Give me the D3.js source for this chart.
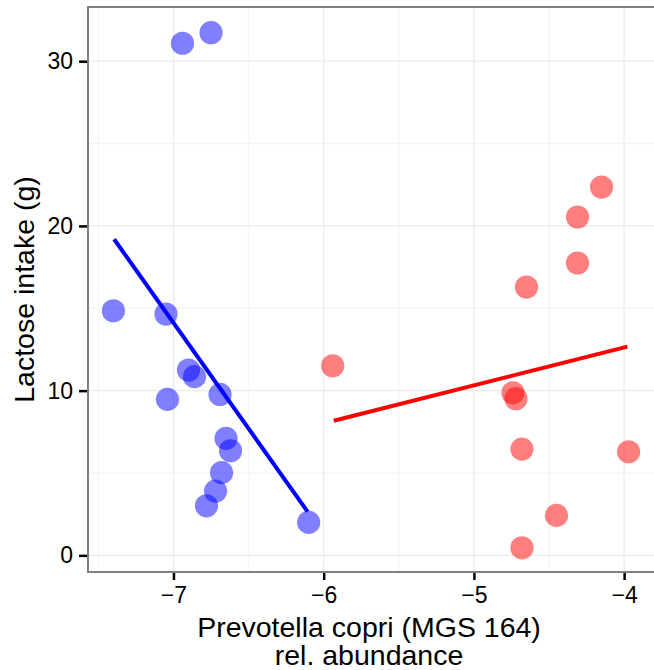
<!DOCTYPE html>
<html lang="en">
<head>
    <meta charset="UTF-8">
    <title>Lactose intake vs Prevotella copri</title>
    <script src="https://d3js.org/d3.v7.min.js"></script>
    <style>
        body { margin: 0; background: #fff; }
        svg { display: block; font-family: "Liberation Sans", Arial, sans-serif; }
        .grid-major { stroke: #ebebeb; stroke-width: 1.3; }
        .grid-minor { stroke: #f5f5f5; stroke-width: 1.6; }
        .axis path.domain { display: none; }
        .axis line { stroke: #000; stroke-width: 2.5; }
        .axis text { font-size: 23px; fill: #000; }
        .title { font-size: 28.5px; fill: #000; }
    </style>
</head>
<body>
<script>
// data
const xTicks = [-7, -6, -5, -4];
const yTicks = [0, 10, 20, 30];
const xMinor = [-7.5, -6.5, -5.5, -4.5];
const yMinor = [5, 15, 25];

const blueX = [-7.40, -7.05, -6.94, -6.75, -6.90, -6.86, -7.04, -6.69, -6.65, -6.62, -6.68, -6.72, -6.78, -6.10];
const blueY = [14.85, 14.65, 31.09, 31.73, 11.25, 10.85, 9.47, 9.77, 7.10, 6.35, 5.02, 3.90, 3.01, 2.00];

const redX = [-4.15, -4.31, -4.31, -4.65, -5.94, -4.74, -4.72, -4.68, -3.97, -4.45, -4.68];
const redY = [22.36, 20.54, 17.75, 16.29, 11.51, 9.87, 9.51, 6.45, 6.29, 2.43, 0.46];

// fitted lines (end points)
const blueFitX = [-7.395, -6.107];
const blueFitY = [19.19, 2.65];
const redFitX = [-5.933, -3.978];
const redFitY = [8.17, 12.67];

const width = 654, height = 670;
const panel = {left: 88, top: 7, right: 657, bottom: 572};

const svg = d3.select("body").append("svg")
    .attr("width", width)
    .attr("height", height);

const x = d3.scaleLinear().domain([-7.569, -3.781]).range([panel.left, panel.right]);
const y = d3.scaleLinear().domain([-1.01, 33.29]).range([panel.bottom, panel.top]);

// grid
const grid = svg.append("g");
grid.selectAll(".vminor").data(xMinor).enter().append("line")
    .attr("class", "grid-minor")
    .attr("x1", d => x(d)).attr("x2", d => x(d))
    .attr("y1", panel.top).attr("y2", panel.bottom);
grid.selectAll(".hminor").data(yMinor).enter().append("line")
    .attr("class", "grid-minor")
    .attr("x1", panel.left).attr("x2", panel.right)
    .attr("y1", d => y(d)).attr("y2", d => y(d));
grid.selectAll(".vmajor").data(xTicks).enter().append("line")
    .attr("class", "grid-major")
    .attr("x1", d => x(d)).attr("x2", d => x(d))
    .attr("y1", panel.top).attr("y2", panel.bottom);
grid.selectAll(".hmajor").data(yTicks).enter().append("line")
    .attr("class", "grid-major")
    .attr("x1", panel.left).attr("x2", panel.right)
    .attr("y1", d => y(d)).attr("y2", d => y(d));

// points
svg.append("g").selectAll("circle")
    .data(blueX.map((d, i) => [d, blueY[i]]))
    .enter().append("circle")
    .attr("cx", d => x(d[0]))
    .attr("cy", d => y(d[1]))
    .attr("r", 11.6)
    .attr("fill", "blue")
    .attr("fill-opacity", 0.5);

svg.append("g").selectAll("circle")
    .data(redX.map((d, i) => [d, redY[i]]))
    .enter().append("circle")
    .attr("cx", d => x(d[0]))
    .attr("cy", d => y(d[1]))
    .attr("r", 11.6)
    .attr("fill", "red")
    .attr("fill-opacity", 0.5);

// fit lines
const line = d3.line().x(d => x(d[0])).y(d => y(d[1]));
svg.append("path")
    .datum(blueFitX.map((d, i) => [d, blueFitY[i]]))
    .attr("d", line)
    .attr("fill", "none")
    .attr("stroke", "blue")
    .attr("stroke-width", 4);
svg.append("path")
    .datum(redFitX.map((d, i) => [d, redFitY[i]]))
    .attr("d", line)
    .attr("fill", "none")
    .attr("stroke", "red")
    .attr("stroke-width", 4);

// border
svg.append("rect")
    .attr("x", panel.left).attr("y", panel.top)
    .attr("width", panel.right - panel.left)
    .attr("height", panel.bottom - panel.top)
    .attr("fill", "none")
    .attr("stroke", "#7f7f7f")
    .attr("stroke-width", 2);

// axes
svg.append("g")
    .attr("class", "axis")
    .attr("transform", `translate(0,${panel.bottom + 1})`)
    .call(d3.axisBottom(x).tickValues(xTicks).tickSize(7).tickPadding(7).tickFormat(d3.format("d")));

svg.append("g")
    .attr("class", "axis")
    .attr("transform", `translate(${panel.left - 1},0)`)
    .call(d3.axisLeft(y).tickValues(yTicks).tickSize(8).tickPadding(6).tickFormat(d3.format("d")));

// titles
const cx = (panel.left + 654) / 2 - 2;
svg.append("text").attr("class", "title")
    .attr("x", cx).attr("y", 637)
    .attr("text-anchor", "middle")
    .text("Prevotella copri (MGS 164)");
svg.append("text").attr("class", "title")
    .attr("x", cx).attr("y", 665)
    .attr("text-anchor", "middle")
    .text("rel. abundance");

svg.append("text").attr("class", "title")
    .attr("transform", `translate(34,${(panel.top + panel.bottom) / 2}) rotate(-90)`)
    .attr("text-anchor", "middle")
    .text("Lactose intake (g)");
</script>
</body>
</html>
